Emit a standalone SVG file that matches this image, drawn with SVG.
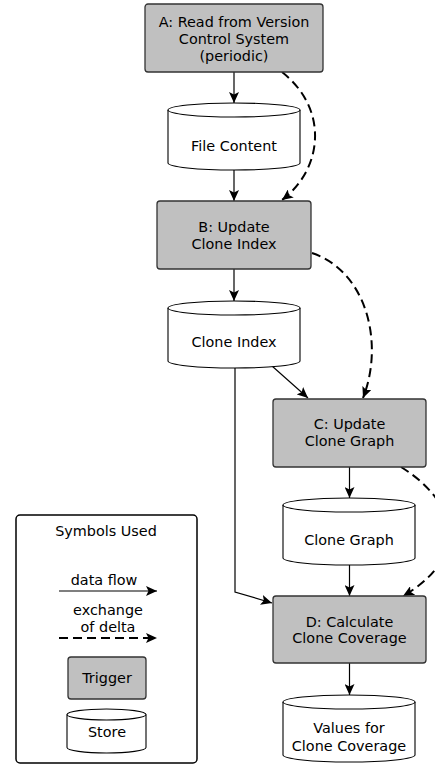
<svg xmlns="http://www.w3.org/2000/svg" width="435" height="765" viewBox="0 0 435 765">
<style>
text{font-family:"DejaVu Sans","Liberation Sans",sans-serif;font-size:14.4px;fill:#000;text-anchor:middle}
.trig{fill:#c0c0c0;stroke:#333;stroke-width:1.3}
.store{fill:#fff;stroke:#000;stroke-width:1.1}
.flow{fill:none;stroke:#000;stroke-width:1.2;marker-end:url(#ah)}
.delta{fill:none;stroke:#000;stroke-width:2;stroke-dasharray:9,5;marker-end:url(#ah)}
</style>
<defs>
<marker id="ah" markerUnits="userSpaceOnUse" markerWidth="12" markerHeight="10" refX="11" refY="5" orient="auto">
<path d="M0,0 L11,5 L0,10 L2.5,5 z" fill="#000"/>
</marker>
</defs>
<g id="connectors">
<path class="flow" d="M234,72 L234,103"/>
<path class="flow" d="M234,170 L234,201"/>
<path class="flow" d="M234,269 L234,301"/>
<path class="flow" d="M272,366 L308,398"/>
<path class="flow" d="M235,368 L235,592 L272,603"/>
<path class="flow" d="M349.5,467 L349.5,498"/>
<path class="flow" d="M349.5,565 L349.5,596"/>
<path class="flow" d="M349.5,663 L349.5,695"/>
<path class="delta" d="M282,72 C330,110 322,170 282,200"/>
<path class="delta" d="M312,253 C368,272 384,345 363,398"/>
<path class="delta" d="M401,467 C462,505 466,560 403,596"/>
</g>
<g id="nodeA">
<rect class="trig" x="145" y="4" width="178" height="68" rx="3"/>
<text x="234" y="27">A: Read from Version</text>
<text x="234" y="44">Control System</text>
<text x="234" y="61">(periodic)</text>
</g>
<g id="fileContent">
<path class="store" d="M168,110 L168,163 A66,7 0 0 0 300,163 L300,110"/>
<ellipse class="store" cx="234" cy="110" rx="66" ry="7"/>
<text x="234" y="151">File Content</text>
</g>
<g id="nodeB">
<rect class="trig" x="157" y="201" width="154" height="68" rx="3"/>
<text x="234" y="232">B: Update</text>
<text x="234" y="249">Clone Index</text>
</g>
<g id="cloneIndex">
<path class="store" d="M168,308 L168,361 A66,7 0 0 0 300,361 L300,308"/>
<ellipse class="store" cx="234" cy="308" rx="66" ry="7"/>
<text x="234" y="347">Clone Index</text>
</g>
<g id="nodeC">
<rect class="trig" x="273" y="399" width="153" height="68" rx="3"/>
<text x="349.5" y="429">C: Update</text>
<text x="349.5" y="446">Clone Graph</text>
</g>
<g id="cloneGraph">
<path class="store" d="M283,505 L283,558 A66,7 0 0 0 415,558 L415,505"/>
<ellipse class="store" cx="349" cy="505" rx="66" ry="7"/>
<text x="349" y="545">Clone Graph</text>
</g>
<g id="nodeD">
<rect class="trig" x="273" y="596" width="153" height="67" rx="3"/>
<text x="349.5" y="627">D: Calculate</text>
<text x="349.5" y="643">Clone Coverage</text>
</g>
<g id="values">
<path class="store" d="M283,702 L283,755 A66,7 0 0 0 415,755 L415,702"/>
<ellipse class="store" cx="349" cy="702" rx="66" ry="7"/>
<text x="349" y="733">Values for</text>
<text x="349" y="751">Clone Coverage</text>
</g>
<g id="legend">
<rect x="16" y="515" width="181" height="248" rx="4" fill="#fff" stroke="#000" stroke-width="1.5"/>
<text x="106" y="536">Symbols Used</text>
<text x="104" y="585">data flow</text>
<path class="flow" d="M59,591 L157,591"/>
<text x="108" y="615">exchange</text>
<text x="108" y="632">of delta</text>
<path class="delta" d="M59,638 L157,638"/>
<rect class="trig" x="68" y="657" width="78" height="42" rx="3"/>
<text x="107" y="683">Trigger</text>
<path class="store" d="M67,714.5 L67,747.5 A39.5,5.5 0 0 0 146,747.5 L146,714.5"/>
<ellipse class="store" cx="106.5" cy="714.5" rx="39.5" ry="5.5"/>
<text x="107" y="737">Store</text>
</g>
</svg>
